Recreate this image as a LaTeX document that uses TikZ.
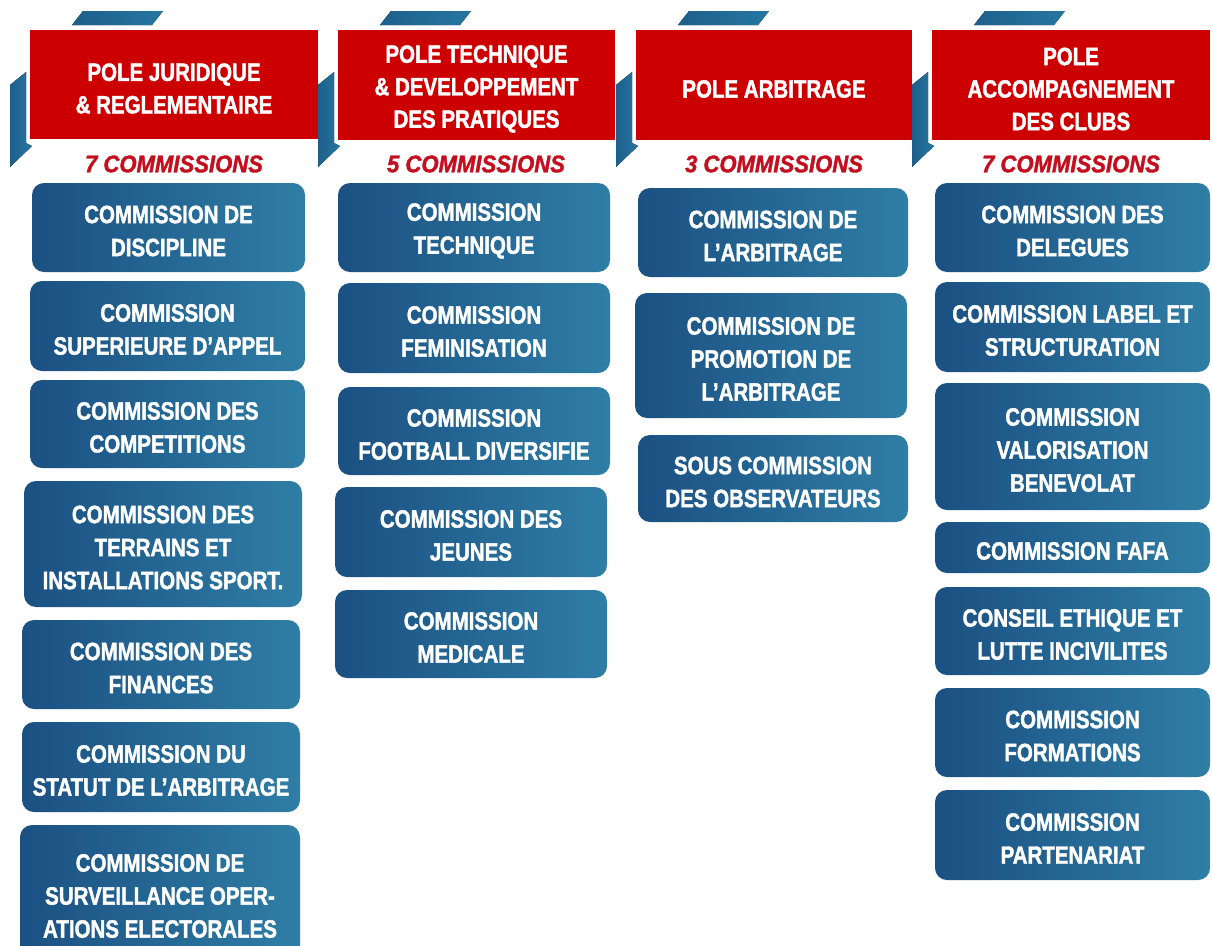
\documentclass[tikz,border=0pt]{standalone}
\usepackage{fontspec}
\setmainfont{Liberation Sans}
\newfontfamily\boxfont[FakeStretch=0.82, FakeBold=1.6]{Liberation Sans}
\newfontfamily\labfont[FakeStretch=0.92, FakeBold=1.6]{Liberation Sans}
\definecolor{hdr}{RGB}{204,0,0}
\definecolor{lab}{RGB}{196,16,30}
\definecolor{boxL}{RGB}{27,80,130}
\definecolor{boxR}{RGB}{47,126,166}
\definecolor{decoC}{RGB}{38,118,162}
\definecolor{decoD}{RGB}{30,95,140}
\tikzset{
  cbox/.style={rounded corners=12pt, left color=boxL, right color=boxR, draw=none, inner sep=0pt},
  ctext/.style={inner sep=0pt, align=center, text=white,
    font=\boxfont\bfseries\fontsize{25}{33}\selectfont},
  hbox/.style={fill=hdr, draw=none, inner sep=0pt},
  htext/.style={inner sep=0pt, align=center, text=white,
    font=\boxfont\bfseries\fontsize{25}{32.5}\selectfont},
  clabel/.style={text=lab, inner sep=0pt,
    font=\labfont\bfseries\itshape\fontsize{24}{26}\selectfont},
  deco/.style={left color=decoD, right color=decoC, draw=none}
}
\newcommand\cbx[6]{\node[cbox, minimum width={(#4-#2)*1pt}, minimum height={(#5-#3)*1pt}] (#1) at ({(#2+#4)/2},{(#3+#5)/2}) {};
  \node[ctext] (#1t) at ([yshift=-3.5pt]#1.center) {#6};}
\newcommand\hbx[6]{\node[hbox, minimum width={(#4-#2)*1pt}, minimum height={(#5-#3)*1pt}] (#1) at ({(#2+#4)/2},{(#3+#5)/2}) {};
  \node[htext] (#1t) at ([yshift=-4pt]#1.center) {#6};}
\newcommand\decos[1]{%
  \fill[deco] ({#1+42},25) -- ({#1+53},11) -- ({#1+133},11) -- ({#1+122},25) -- cycle;
  \fill[deco] ({#1-20},85) -- ({#1-4},72) -- ({#1-4},143) -- ({#1+2},146) -- ({#1-20},167) -- cycle;}
\begin{document}
\begin{tikzpicture}[x=1pt,y=-1pt]
\useasboundingbox (0,0) rectangle (1212,945);
\fill[white] (0,0) rectangle (1212,945);
\clip (0,0) rectangle (1212,945);
% decorations
\decos{30}
\decos{338}
\decos{636}
\decos{932}
% headers
\hbx{h1}{30}{30}{318}{139}{POLE JURIDIQUE\\\& REGLEMENTAIRE}
\hbx{h2}{338}{30}{615}{140}{POLE TECHNIQUE\\\& DEVELOPPEMENT\\DES PRATIQUES}
\hbx{h3}{636}{30}{912}{140}{POLE ARBITRAGE}
\hbx{h4}{932}{30}{1210}{140}{POLE\\ACCOMPAGNEMENT\\DES CLUBS}
% counts
\node[clabel] (l1) at (174,164) {7 COMMISSIONS};
\node[clabel] (l2) at (476,164) {5 COMMISSIONS};
\node[clabel] (l3) at (774,164) {3 COMMISSIONS};
\node[clabel] (l4) at (1071,164) {7 COMMISSIONS};
% column 1
\cbx{b11}{32}{183}{305}{272}{COMMISSION DE\\DISCIPLINE}
\cbx{b12}{30}{281}{305}{371}{COMMISSION\\SUPERIEURE D’APPEL}
\cbx{b13}{30}{380}{305}{468}{COMMISSION DES\\COMPETITIONS}
\cbx{b14}{24}{481}{302}{607}{COMMISSION DES\\TERRAINS ET\\INSTALLATIONS SPORT.}
\cbx{b15}{22}{620}{300}{709}{COMMISSION DES\\FINANCES}
\cbx{b16}{22}{722}{300}{812}{COMMISSION DU\\STATUT DE L’ARBITRAGE}
\cbx{b17}{20}{825}{300}{960}{COMMISSION DE\\SURVEILLANCE OPER-\\ATIONS ELECTORALES}
% column 2
\cbx{b21}{338}{183}{610}{272}{COMMISSION\\TECHNIQUE}
\cbx{b22}{338}{283}{610}{373}{COMMISSION\\FEMINISATION}
\cbx{b23}{338}{387}{610}{475}{COMMISSION\\FOOTBALL DIVERSIFIE}
\cbx{b24}{335}{487}{607}{577}{COMMISSION DES\\JEUNES}
\cbx{b25}{335}{590}{607}{678}{COMMISSION\\MEDICALE}
% column 3
\cbx{b31}{638}{188}{908}{277}{COMMISSION DE\\L’ARBITRAGE}
\cbx{b32}{635}{293}{907}{418}{COMMISSION DE\\PROMOTION DE\\L’ARBITRAGE}
\cbx{b33}{638}{435}{908}{522}{SOUS COMMISSION\\DES OBSERVATEURS}
% column 4
\cbx{b41}{935}{183}{1210}{272}{COMMISSION DES\\DELEGUES}
\cbx{b42}{935}{282}{1210}{372}{COMMISSION LABEL ET\\STRUCTURATION}
\cbx{b43}{935}{383}{1210}{510}{COMMISSION\\VALORISATION\\BENEVOLAT}
\cbx{b44}{935}{522}{1210}{573}{COMMISSION FAFA}
\cbx{b45}{935}{587}{1210}{675}{CONSEIL ETHIQUE ET\\LUTTE INCIVILITES}
\cbx{b46}{935}{688}{1210}{777}{COMMISSION\\FORMATIONS}
\cbx{b47}{935}{790}{1210}{880}{COMMISSION\\PARTENARIAT}
\end{tikzpicture}
\end{document}
